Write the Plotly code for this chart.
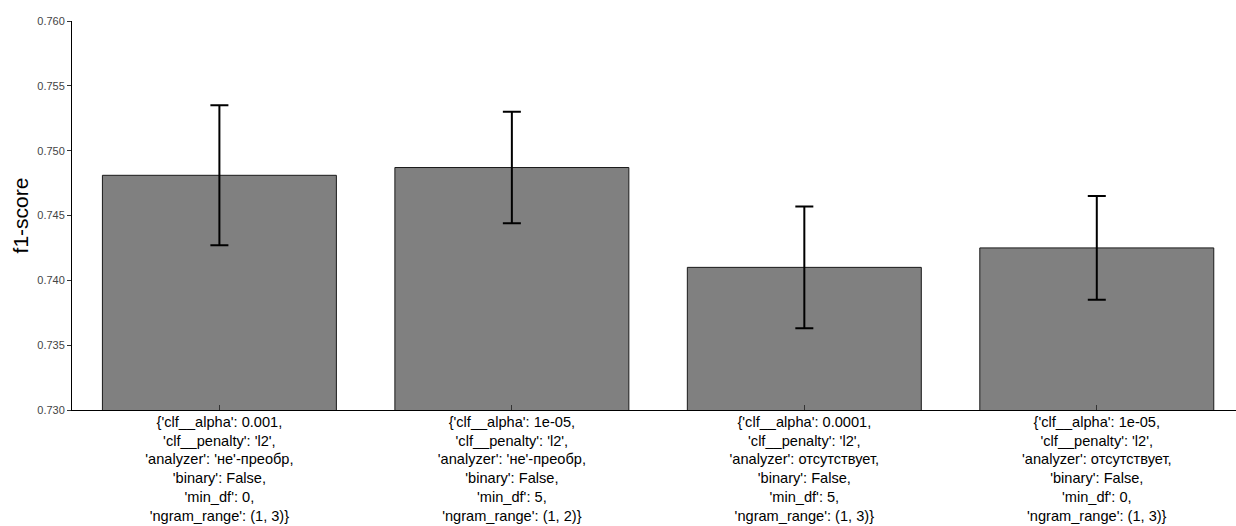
import plotly.graph_objects as go

categories = [
    "{'clf__alpha': 0.001,<br>'clf__penalty': 'l2',<br>'analyzer': 'не'-преобр,<br>'binary': False,<br>'min_df': 0,<br>'ngram_range': (1, 3)}",
    "{'clf__alpha': 1e-05,<br>'clf__penalty': 'l2',<br>'analyzer': 'не'-преобр,<br>'binary': False,<br>'min_df': 5,<br>'ngram_range': (1, 2)}",
    "{'clf__alpha': 0.0001,<br>'clf__penalty': 'l2',<br>'analyzer': отсутствует,<br>'binary': False,<br>'min_df': 5,<br>'ngram_range': (1, 3)}",
    "{'clf__alpha': 1e-05,<br>'clf__penalty': 'l2',<br>'analyzer': отсутствует,<br>'binary': False,<br>'min_df': 0,<br>'ngram_range': (1, 3)}",
]
scores = [0.7481, 0.7487, 0.7410, 0.7425]
errors = [0.0054, 0.0043, 0.0047, 0.0040]
y_ticks = [0.730, 0.735, 0.740, 0.745, 0.750, 0.755, 0.760]

positions = list(range(len(categories)))

fig = go.Figure()
fig.add_trace(go.Bar(
    x=positions,
    y=scores,
    width=0.8,
    marker=dict(color="#808080", line=dict(color="#1a1a1a", width=1)),
    error_y=dict(type="data", array=errors, visible=True,
                 color="black", thickness=2, width=9),
    showlegend=False,
))

fig.update_layout(
    width=1236, height=526,
    margin=dict(l=72, r=0, t=21, b=116),
    paper_bgcolor="white", plot_bgcolor="white",
    font=dict(family="Liberation Sans, Arial, sans-serif", color="black"),
    bargap=0.2,
)
fig.update_xaxes(
    range=[-0.504, 3.476],
    automargin=False,
    tickmode="array", tickvals=positions, ticktext=categories,
    tickfont=dict(size=14.6, color="black"),
    ticklabelstandoff=-2,
    showline=True, linecolor="black", linewidth=1,
    ticks="inside", ticklen=5, tickcolor="#333", tickwidth=1,
    showgrid=False, zeroline=False,
)
fig.update_yaxes(
    range=[0.730, 0.760],
    automargin=False,
    tickmode="array", tickvals=y_ticks,
    tickformat=".3f",
    tickfont=dict(size=11, color="#444"),
    showline=True, linecolor="black", linewidth=1,
    ticks="outside", ticklen=4, tickcolor="#333", tickwidth=1,
    showgrid=False, zeroline=False,
    title=dict(text="f1-score", font=dict(size=21, color="black"), standoff=2),
)

fig.write_html("out.html")
